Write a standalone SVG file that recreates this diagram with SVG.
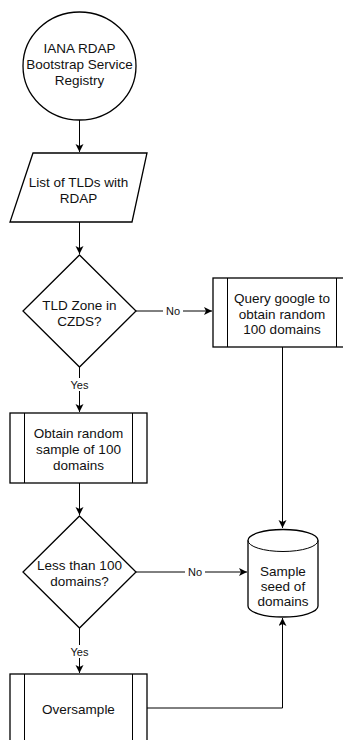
<svg xmlns="http://www.w3.org/2000/svg" width="343" height="740" viewBox="0 0 343 740">
<style>
.s{fill:#fff;stroke:#000;stroke-width:1.3}
.l{fill:none;stroke:#000;stroke-width:1}
text{font-family:"Liberation Sans",Arial,sans-serif;font-size:13.5px;fill:#111;text-anchor:middle}
.lb{font-size:11px}
</style>
<defs>
<marker id="a" markerWidth="10" markerHeight="10" refX="8" refY="4" orient="auto" markerUnits="userSpaceOnUse">
<path d="M0,0 L8,4 L0,8 L2,4 Z" fill="#000"/>
</marker>
</defs>
<rect width="343" height="740" fill="#fff"/>
<g id="connectors">
<path class="l" d="M79.5,120 V152" marker-end="url(#a)"/>
<path class="l" d="M79.5,222 V254" marker-end="url(#a)"/>
<path class="l" d="M136,311 H212" marker-end="url(#a)"/>
<rect x="163" y="304" width="20" height="13" fill="#fff"/>
<text class="lb" x="173" y="315">No</text>
<path class="l" d="M79.5,367 V412" marker-end="url(#a)"/>
<rect x="67" y="378" width="25" height="13" fill="#fff"/>
<text class="lb" x="79.5" y="389">Yes</text>
<path class="l" d="M79.5,483 V515" marker-end="url(#a)"/>
<path class="l" d="M282.5,347 V528" marker-end="url(#a)"/>
<path class="l" d="M136,572 H247" marker-end="url(#a)"/>
<rect x="185" y="565" width="20" height="13" fill="#fff"/>
<text class="lb" x="195" y="576">No</text>
<path class="l" d="M79.5,628 V673" marker-end="url(#a)"/>
<rect x="67" y="645" width="25" height="13" fill="#fff"/>
<text class="lb" x="79.5" y="656">Yes</text>
<path class="l" d="M147,708 H282.5 V618" marker-end="url(#a)"/>
</g>
<g id="iana">
<ellipse class="s" cx="79.5" cy="66" rx="56.5" ry="54"/>
<text x="79.5" y="53">IANA RDAP</text>
<text x="79.5" y="69">Bootstrap Service</text>
<text x="79.5" y="85">Registry</text>
</g>
<g id="tlds">
<path class="s" d="M33,153 H147 L132,222 H10 Z"/>
<text x="78.5" y="187">List of TLDs with</text>
<text x="78.5" y="203">RDAP</text>
</g>
<g id="czds">
<path class="s" d="M79.5,255 L136,311 L79.5,367 L23,311 Z"/>
<text x="79.5" y="310">TLD Zone in</text>
<text x="79.5" y="326">CZDS?</text>
</g>
<g id="google">
<rect class="s" x="213" y="278" width="137" height="69"/>
<path class="l" d="M227.5,278 V347 M336.5,278 V347" stroke-width="1.3"/>
<text x="282" y="303">Query google to</text>
<text x="282" y="318.5">obtain random</text>
<text x="282" y="334">100 domains</text>
</g>
<g id="obtain">
<rect class="s" x="10" y="413" width="137" height="70"/>
<path class="l" d="M24.5,413 V483 M132.5,413 V483" stroke-width="1.3"/>
<text x="78.5" y="437.5">Obtain random</text>
<text x="78.5" y="453.5">sample of 100</text>
<text x="78.5" y="469.5">domains</text>
</g>
<g id="less">
<path class="s" d="M79.5,516 L136,572 L79.5,628 L23,572 Z"/>
<text x="79.5" y="570">Less than 100</text>
<text x="79.5" y="586">domains?</text>
</g>
<g id="seed">
<path class="s" d="M248,540.5 A35,11 0 0 1 318,540.5 V606 A35,11 0 0 1 248,606 Z"/>
<path class="l" d="M248,540.5 A35,11 0 0 0 318,540.5" stroke-width="1.3"/>
<text x="283" y="576">Sample</text>
<text x="283" y="591">seed of</text>
<text x="283" y="606">domains</text>
</g>
<g id="oversample">
<rect class="s" x="10" y="674" width="137" height="70"/>
<path class="l" d="M24.5,674 V744 M132.5,674 V744" stroke-width="1.3"/>
<text x="78.5" y="714">Oversample</text>
</g>
</svg>
